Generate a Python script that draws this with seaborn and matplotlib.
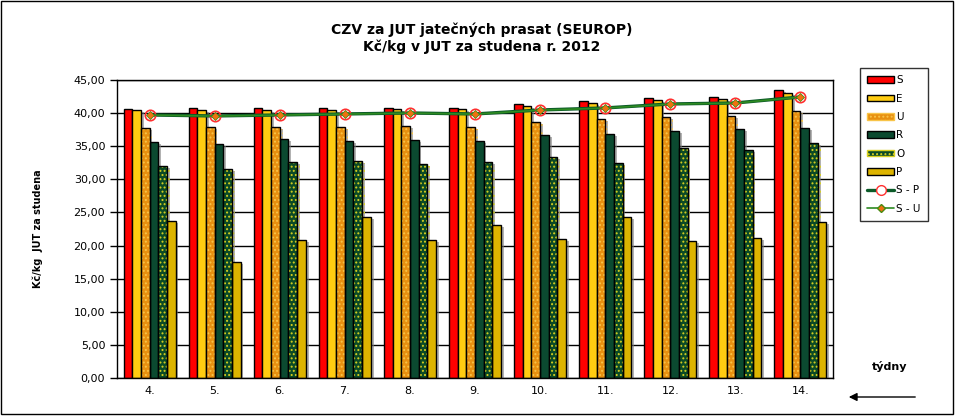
import numpy as np
import pandas as pd
import seaborn as sns
import matplotlib
matplotlib.use('Agg')
from matplotlib import pyplot as plt
from matplotlib import patches as mpatches
from matplotlib import patheffects as pe
from matplotlib.lines import Line2D
from matplotlib.ticker import FuncFormatter

# hodnoty (Kc/kg JUT za studena)
weeks = ['4.', '5.', '6.', '7.', '8.', '9.', '10.', '11.', '12.', '13.', '14.']
S = [40.62, 40.78, 40.78, 40.78, 40.78, 40.78, 41.38, 41.83, 42.29, 42.44, 43.50]
E = [40.47, 40.47, 40.47, 40.47, 40.62, 40.62, 41.08, 41.53, 41.99, 42.14, 43.04]
U = [37.75, 37.90, 37.90, 37.90, 38.05, 37.90, 38.66, 39.11, 39.42, 39.57, 40.32]
R = [35.63, 35.33, 36.09, 35.79, 35.94, 35.79, 36.69, 36.84, 37.30, 37.60, 37.75]
O = [32.00, 31.55, 32.66, 32.81, 32.31, 32.66, 33.37, 32.46, 34.73, 34.43, 35.48]
P = [23.69, 17.49, 20.82, 24.29, 20.82, 23.08, 20.97, 24.29, 20.67, 21.12, 23.54]
S_P = [39.72, 39.57, 39.72, 39.87, 40.02, 39.87, 40.47, 40.78, 41.38, 41.53, 42.44]
S_U = [39.70, 39.55, 39.70, 39.85, 40.00, 39.85, 40.45, 40.76, 41.36, 41.51, 42.42]

grades = ['S', 'E', 'U', 'R', 'O', 'P']
series = [S, E, U, R, O, P]
colors = ['#FF0000', '#FFCC11', '#E89010', '#0B4A30', '#0B4A26', '#DDB400']
hatch_dots = {'U': '#F8C448', 'O': '#D8D020'}

df = pd.DataFrame({
    'week': np.repeat([weeks], len(grades), axis=0).ravel(),
    'grade': np.repeat(grades, len(weeks)),
    'value': np.concatenate(series),
})

sns.set_style('white')
plt.rcParams['font.family'] = ['DejaVu Sans']
plt.rcParams['hatch.linewidth'] = 0.9
for k in ['text.color', 'axes.labelcolor', 'xtick.color', 'ytick.color']:
    plt.rcParams[k] = 'black'

fig = plt.figure(figsize=(9.57, 4.18), dpi=100)
ax = fig.add_axes([117 / 957, 1 - 378 / 418, 716 / 957, 298 / 418])

sns.barplot(data=df, x='week', y='value', hue='grade', order=weeks, hue_order=grades,
            palette=colors, edgecolor='black', linewidth=1, width=0.8, saturation=1,
            legend=False, ax=ax, errorbar=None)

shadow = [pe.SimplePatchShadow(offset=(2, -1.5), shadow_rgbFace='#808080', alpha=0.6), pe.Normal()]
for g, cont in zip(grades, ax.containers):
    for bar in cont:
        bar.set_path_effects(shadow)
        if g in hatch_dots:
            bar.set_hatch('....')
            bar.set_edgecolor(hatch_dots[g])
            bar.set_linewidth(0)
            ax.add_patch(mpatches.Rectangle(bar.get_xy(), bar.get_width(), bar.get_height(),
                                            fill=False, edgecolor='black', lw=1, zorder=bar.get_zorder()))

sns.pointplot(x=weeks, y=S_P, order=weeks, color='#0B5A28', markers='o', linestyles='-',
              ax=ax, markersize=7.5, markerfacecolor='none', markeredgecolor='#FF3030',
              markeredgewidth=1.2, linewidth=2.4)
sns.pointplot(x=weeks, y=S_U, order=weeks, color='#2E8B22', markers='D', linestyles='-',
              ax=ax, markersize=4.5, markerfacecolor='#F07010', markeredgecolor='#4A8A10',
              markeredgewidth=0.6, linewidth=1.2)

ax.set_xlim(-0.5, len(weeks) - 0.5)
ax.set_ylim(0, 45)
ax.set_yticks(np.arange(0, 46, 5))
ax.yaxis.set_major_formatter(FuncFormatter(lambda v, p: f'{v:.2f}'.replace('.', ',')))
ax.yaxis.grid(True, color='black', lw=1)
ax.set_axisbelow(True)
ax.set_xticks(np.arange(-0.5, len(weeks), 1), minor=True)
ax.tick_params(axis='x', which='major', length=0, labelsize=8, pad=6)
ax.tick_params(axis='x', which='minor', length=5, width=1, color='black', direction='out')
ax.tick_params(axis='y', length=5, width=1, color='black', direction='out', labelsize=8, left=True)
for sp in ax.spines.values():
    sp.set_color('black')
    sp.set_linewidth(1)
ax.set_xlabel('')
ax.set_ylabel('')

fig.text(482 / 957, 1 - 30 / 418, 'CZV za JUT jatečných prasat (SEUROP)', ha='center', va='center',
         fontsize=10, fontweight='bold')
fig.text(482 / 957, 1 - 47 / 418, 'Kč/kg v JUT za studena r. 2012', ha='center', va='center',
         fontsize=10, fontweight='bold')
fig.text(38 / 957, 1 - 229 / 418, 'Kč/kg  JUT za studena', rotation=90, ha='center', va='center',
         fontsize=7, fontweight='bold')
fig.text(890 / 957, 1 - 367 / 418, 'týdny', ha='center', va='center', fontsize=8, fontweight='bold')
fig.add_artist(mpatches.FancyArrowPatch((918 / 957, 1 - 397 / 418), (846 / 957, 1 - 397 / 418),
                                        transform=fig.transFigure, arrowstyle='-|>', mutation_scale=12,
                                        color='black', lw=1))
fig.add_artist(mpatches.Rectangle((1 / 957, 1 - 414 / 418), 952 / 957, 413 / 418, transform=fig.transFigure,
                                  fill=False, edgecolor='black', lw=1))

handles = []
for g, c in zip(grades, colors):
    if g in hatch_dots:
        handles.append(mpatches.Patch(facecolor=c, edgecolor=hatch_dots[g], hatch='....', label=g))
    else:
        handles.append(mpatches.Patch(facecolor=c, edgecolor='black', label=g))
handles.append(Line2D([], [], color='#0B5A28', lw=2.4, marker='o', markersize=7, markerfacecolor='white',
                      markeredgecolor='#FF3030', label='S - P'))
handles.append(Line2D([], [], color='#2E8B22', lw=1.2, marker='D', markersize=4.5, markerfacecolor='#F07010',
                      markeredgecolor='#4A8A10', label='S - U'))
leg = fig.legend(handles=handles, loc='upper left', bbox_to_anchor=(860 / 957, 1 - 68 / 418),
                 frameon=True, fancybox=False, edgecolor='black', fontsize=7.5, handlelength=2.6,
                 handleheight=0.6, labelspacing=0.8, borderpad=0.7, handletextpad=0.2, borderaxespad=0)
leg.get_frame().set_linewidth(1)

fig.savefig('out.png', dpi=100)
